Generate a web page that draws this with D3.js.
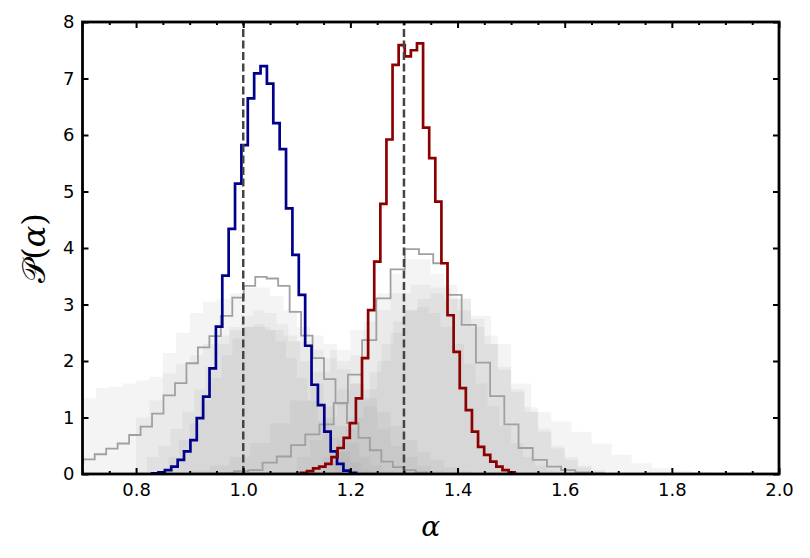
<!DOCTYPE html>
<html>
<head>
<meta charset="utf-8">
<script src="https://cdn.jsdelivr.net/npm/d3@7"></script>
<style>
  body { margin: 0; background: #fff; }
  .tick line { stroke: #000; stroke-width: 2px; }
</style>
</head>
<body>
<div id="chart"></div>
<script>
// Chart size and plot box
var width  = 810;
var height = 558;
var margin = {left: 82.5, right: 31, top: 22, bottom: 84};

// Step histograms: first bin edge, bin width, bin heights
var blueStart = 0.830, blueWidth = 0.0119;
var blueValues = [0.01, 0.03, 0.07, 0.13, 0.25, 0.40, 0.60, 0.99, 1.37, 1.87, 2.61, 3.51, 4.34, 5.14, 5.82,
                  6.65, 7.09, 7.22, 6.91, 6.21, 5.75, 4.70, 3.88, 3.17, 2.27, 1.58, 1.22, 0.75, 0.40, 0.18, 0.06, 0.02];

var redStart = 1.1077, redWidth = 0.0114;
var redValues = [0.02, 0.05, 0.10, 0.13, 0.18, 0.30, 0.46, 0.64, 0.90, 1.34, 2.05, 2.90, 3.76, 4.78, 5.92,
                 7.24, 7.59, 7.39, 7.50, 7.62, 6.13, 5.59, 4.82, 3.73, 2.81, 2.16, 1.52, 1.13, 0.75, 0.48,
                 0.34, 0.22, 0.13, 0.07, 0.03];

var grayOneStart = 0.680, grayOneWidth = 0.0214;
var grayOneValues = [0.20, 0.26, 0.35, 0.45, 0.54, 0.69, 0.84, 1.07, 1.39, 1.61, 1.96, 2.24, 2.44, 2.80, 3.12,
                     3.33, 3.49, 3.46, 3.33, 2.87, 2.45, 2.05, 1.68, 1.25, 0.90, 0.64, 0.42, 0.22, 0.12, 0.07, 0.03];

var grayTwoStart = 0.9565, grayTwoWidth = 0.02654;
var grayTwoValues = [0.01, 0.05, 0.07, 0.20, 0.31, 0.51, 0.70, 0.88, 1.26, 1.76, 2.37, 3.11, 3.62, 3.98, 3.89,
                     3.73, 3.17, 2.64, 1.97, 1.38, 0.88, 0.46, 0.25, 0.13, 0.07, 0.03, 0.01];

// Faint filled histograms behind
var faintA1Start = 0.65, faintA1Width = 0.025;
var faintA1Values = [1.20, 1.30, 1.34, 1.52, 1.55, 1.60, 1.66, 1.72, 1.78, 1.95, 2.10, 2.30, 2.45, 2.55, 2.60,
                     2.60, 2.55, 2.45, 2.35, 2.20, 2.05, 1.85, 1.60, 1.35, 1.10, 0.85, 0.60, 0.40, 0.25, 0.12, 0.05];
var faintA2Start = 0.80, faintA2Width = 0.025;
var faintA2Values = [1.00, 1.30, 2.14, 2.50, 2.85, 3.05, 3.10, 3.20, 3.30, 3.30, 3.15, 2.90, 2.60, 2.45, 2.30,
                     2.00, 1.60, 1.20, 0.80, 0.50, 0.30, 0.15, 0.06];
var faintA3Start = 0.82, faintA3Width = 0.022;
var faintA3Values = [0.30, 0.50, 0.80, 1.10, 1.50, 1.90, 2.30, 2.60, 2.80, 2.90, 2.85, 2.65, 2.35, 2.00, 1.60,
                     1.20, 0.85, 0.55, 0.30, 0.15, 0.06];
var faintA4Start = 0.86, faintA4Width = 0.02;
var faintA4Values = [0.30, 0.60, 0.90, 1.30, 1.70, 2.10, 2.40, 2.60, 2.65, 2.55, 2.35, 2.05, 1.70, 1.30, 0.95,
                     0.65, 0.40, 0.20, 0.08];

var faintB1Start = 0.90, faintB1Width = 0.0375;
var faintB1Values = [0.06, 0.15, 0.30, 0.55, 0.90, 1.30, 1.80, 2.20, 2.55, 2.90, 3.20, 3.35, 3.30, 3.10, 2.80,
                     2.30, 1.60, 1.10, 0.93, 0.75, 0.54, 0.34, 0.19, 0.10, 0.06, 0.03, 0.01];
var faintB2Start = 1.10, faintB2Width = 0.025;
var faintB2Values = [0.30, 0.60, 1.00, 1.50, 2.10, 2.70, 3.20, 3.55, 3.80, 3.80, 3.55, 3.35, 3.10, 2.75, 2.45,
                     1.85, 1.45, 1.18, 0.80, 0.50, 0.30, 0.15, 0.07];
var faintB3Start = 1.15, faintB3Width = 0.025;
var faintB3Values = [0.30, 0.60, 1.00, 1.50, 2.00, 2.50, 2.90, 3.10, 3.20, 3.10, 2.90, 2.60, 2.30, 1.90, 1.50,
                     1.10, 0.75, 0.45, 0.25, 0.12, 0.05];
var faintB4Start = 1.17, faintB4Width = 0.022;
var faintB4Values = [0.40, 0.80, 1.30, 1.80, 2.30, 2.70, 2.90, 2.95, 2.85, 2.60, 2.30, 1.95, 1.60, 1.20, 0.85,
                     0.55, 0.30, 0.15, 0.06];

// Reference values (dashed lines) and ticks
var trueValues = [1.0, 1.3];
var xMajorTicks = [0.8, 1.0, 1.2, 1.4, 1.6, 1.8, 2.0];
var xMinorTicks = [0.7, 0.75, 0.85, 0.9, 0.95, 1.05, 1.1, 1.15, 1.25, 1.3, 1.35, 1.45, 1.5, 1.55,
                   1.65, 1.7, 1.75, 1.85, 1.9, 1.95];
var yTicks = [0, 1, 2, 3, 4, 5, 6, 7, 8];

var innerW = width - margin.left - margin.right;
var innerH = height - margin.top - margin.bottom;

var x = d3.scaleLinear().domain([0.7, 2.0]).range([0, innerW]);
var y = d3.scaleLinear().domain([0, 8]).range([innerH, 0]);

var svg = d3.select("#chart").append("svg")
    .attr("width", width)
    .attr("height", height);

svg.append("defs").append("clipPath")
    .attr("id", "plotclip")
  .append("rect")
    .attr("width", innerW)
    .attr("height", innerH);

var g = svg.append("g")
    .attr("transform", "translate(" + margin.left + "," + margin.top + ")");

var plot = g.append("g").attr("clip-path", "url(#plotclip)");

// Turn bin heights into points for a step path
function stepPoints(start, binWidth, values) {
    var pts = [[start, 0]];
    values.forEach(function(v, i) { pts.push([start + i * binWidth, v]); });
    pts.push([start + values.length * binWidth, 0]);
    return pts;
}

var stepLine = d3.line()
    .x(d => x(d[0]))
    .y(d => y(d[1]))
    .curve(d3.curveStepAfter);

var stepArea = d3.area()
    .x(d => x(d[0]))
    .y0(y(0))
    .y1(d => y(d[1]))
    .curve(d3.curveStepAfter);

// Faint filled histograms
var faint = [
    [faintA1Start, faintA1Width, faintA1Values],
    [faintA2Start, faintA2Width, faintA2Values],
    [faintA3Start, faintA3Width, faintA3Values],
    [faintA4Start, faintA4Width, faintA4Values],
    [faintB1Start, faintB1Width, faintB1Values],
    [faintB2Start, faintB2Width, faintB2Values],
    [faintB3Start, faintB3Width, faintB3Values],
    [faintB4Start, faintB4Width, faintB4Values]
];

plot.selectAll("path.faint")
    .data(faint)
    .enter()
    .append("path")
    .attr("class", "faint")
    .attr("fill", "#808080")
    .attr("fill-opacity", 0.09)
    .attr("d", d => stepArea(stepPoints(d[0], d[1], d[2])));

// Gray outlined histograms
[[grayOneStart, grayOneWidth, grayOneValues], [grayTwoStart, grayTwoWidth, grayTwoValues]].forEach(function(h) {
    plot.append("path")
        .attr("fill", "none")
        .attr("stroke", "#a0a0a0")
        .attr("stroke-width", 1.8)
        .attr("d", stepLine(stepPoints(h[0], h[1], h[2])));
});

// Main histograms
plot.append("path")
    .attr("fill", "none")
    .attr("stroke", "#00008b")
    .attr("stroke-width", 2.7)
    .attr("d", stepLine(stepPoints(blueStart, blueWidth, blueValues)));

plot.append("path")
    .attr("fill", "none")
    .attr("stroke", "#8b0000")
    .attr("stroke-width", 2.7)
    .attr("d", stepLine(stepPoints(redStart, redWidth, redValues)));

// True values
plot.selectAll("line.truth")
    .data(trueValues)
    .enter()
    .append("line")
    .attr("class", "truth")
    .attr("x1", d => x(d))
    .attr("x2", d => x(d))
    .attr("y1", y(0))
    .attr("y2", y(8))
    .attr("stroke", "#444")
    .attr("stroke-width", 2.5)
    .attr("stroke-dasharray", "8,3.5");

// Axes with inward ticks on all sides
var xAxisG = g.append("g")
    .attr("transform", "translate(0," + innerH + ")")
    .call(d3.axisBottom(x).tickValues(xMajorTicks).tickFormat(d3.format(".1f"))
        .tickSizeInner(-6).tickSizeOuter(0).tickPadding(9));
g.append("g")
    .attr("transform", "translate(0," + innerH + ")")
    .call(d3.axisBottom(x).tickValues(xMinorTicks).tickFormat("").tickSizeInner(-3).tickSizeOuter(0));
g.append("g")
    .call(d3.axisTop(x).tickValues(xMajorTicks).tickFormat("").tickSizeInner(-6).tickSizeOuter(0));
g.append("g")
    .call(d3.axisTop(x).tickValues(xMinorTicks).tickFormat("").tickSizeInner(-3).tickSizeOuter(0));
var yAxisG = g.append("g")
    .call(d3.axisLeft(y).tickValues(yTicks).tickFormat(d3.format("d"))
        .tickSizeInner(-6).tickSizeOuter(0).tickPadding(8));
g.append("g")
    .attr("transform", "translate(" + innerW + ",0)")
    .call(d3.axisRight(y).tickValues(yTicks).tickFormat("").tickSizeInner(-6).tickSizeOuter(0));

g.selectAll(".domain").remove();

[xAxisG, yAxisG].forEach(function(a) {
    a.attr("font-family", "DejaVu Sans, sans-serif")
     .attr("font-size", 18);
    a.selectAll("text").attr("fill", "#000");
});

// Frame
g.append("rect")
    .attr("width", innerW)
    .attr("height", innerH)
    .attr("fill", "none")
    .attr("stroke", "#000")
    .attr("stroke-width", 2.8);

// Axis titles
svg.append("text")
    .attr("x", margin.left + innerW / 2)
    .attr("y", 536)
    .attr("text-anchor", "middle")
    .attr("font-family", "DejaVu Serif, serif")
    .attr("font-style", "italic")
    .attr("font-size", "28px")
    .text("α");

var ylab = svg.append("text")
    .attr("transform", "translate(45," + (margin.top + innerH / 2) + ") rotate(-90)")
    .attr("text-anchor", "middle")
    .attr("font-family", "DejaVu Serif, serif")
    .attr("font-size", "32px");
ylab.append("tspan").text("𝒫(");
ylab.append("tspan").attr("font-style", "italic").text("α");
ylab.append("tspan").text(")");
</script>
</body>
</html>
